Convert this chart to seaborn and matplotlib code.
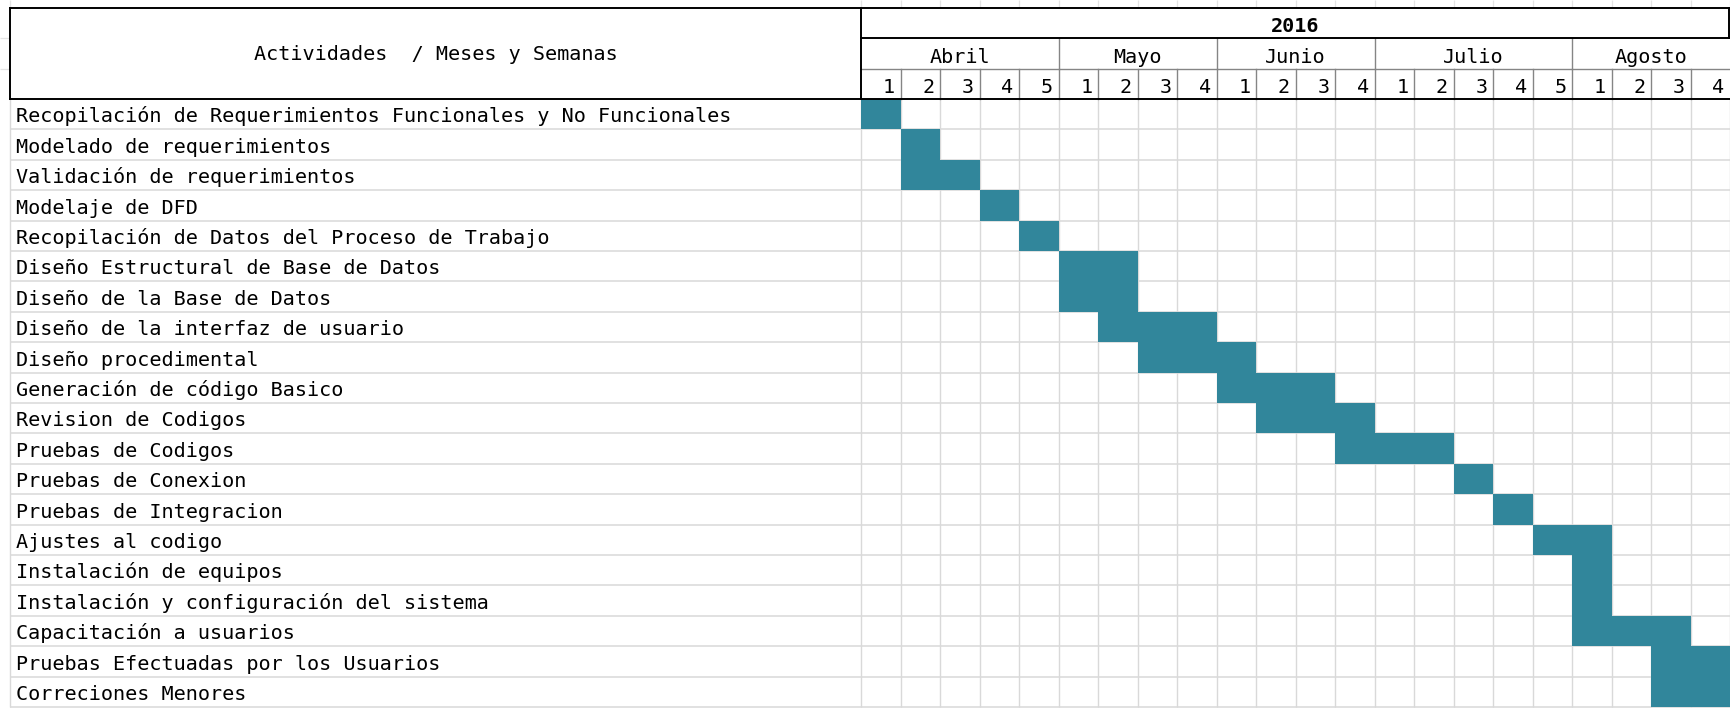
import numpy as np
import pandas as pd
import matplotlib
matplotlib.use("Agg")
import matplotlib.pyplot as plt
from matplotlib.colors import ListedColormap
import seaborn as sns

# ---- schedule data -------------------------------------------------------
year_label = "2016"
header_label = "Actividades  / Meses y Semanas"
months = ["Abril", "Mayo", "Junio", "Julio", "Agosto"]
weeks_per_month = [5, 4, 4, 5, 4]
week_labels = ["1", "2", "3", "4", "5",
               "1", "2", "3", "4",
               "1", "2", "3", "4",
               "1", "2", "3", "4", "5",
               "1", "2", "3", "4"]

activities = [
    "Recopilación de Requerimientos Funcionales y No Funcionales",
    "Modelado de requerimientos",
    "Validación de requerimientos",
    "Modelaje de DFD",
    "Recopilación de Datos del Proceso de Trabajo",
    "Diseño Estructural de Base de Datos",
    "Diseño de la Base de Datos",
    "Diseño de la interfaz de usuario",
    "Diseño procedimental",
    "Generación de código Basico",
    "Revision de Codigos",
    "Pruebas de Codigos",
    "Pruebas de Conexion",
    "Pruebas de Integracion",
    "Ajustes al codigo",
    "Instalación de equipos",
    "Instalación y configuración del sistema",
    "Capacitación a usuarios",
    "Pruebas Efectuadas por los Usuarios",
    "Correciones Menores",
]
# first week (0-based index over the 22 weeks) and length in weeks
start_week = [0, 1, 1, 3, 4, 5, 5, 6, 7, 9, 10, 12, 15, 16, 17, 18, 18, 18, 20, 20]
duration = [1, 1, 2, 1, 1, 2, 2, 3, 3, 3, 3, 3, 1, 1, 2, 1, 1, 3, 2, 2]

# ---- style ---------------------------------------------------------------
sns.set_theme(style="white")
plt.rcParams["font.family"] = ["DejaVu Sans Mono", "DejaVu Sans"]
FS = 14.5
BAR = "#31869B"
GRID = "#d9d9d9"
MID = "#858585"
FAINT = "#e4e4e4"

n_rows = len(activities)
n_cols = len(week_labels)

# activity x week occupancy matrix
schedule = np.zeros((n_rows, n_cols))
for i, (s, d) in enumerate(zip(start_week, duration)):
    schedule[i, s:s + d] = 1
df = pd.DataFrame(schedule, index=activities,
                  columns=[f"{m}-{w}" for m, n in zip(months, weeks_per_month)
                           for w in range(1, n + 1)])

# ---- figure / axes geometry (pixels) -------------------------------------
W, H = 1730, 708
x0_px, col_px = 861, 39.5
y0_px, row_px = 99, 30.4
fig = plt.figure(figsize=(W / 100, H / 100), dpi=100)
fig.patch.set_facecolor("white")
ax = fig.add_axes([x0_px / W, (H - y0_px - n_rows * row_px) / H,
                   n_cols * col_px / W, n_rows * row_px / H])

sns.heatmap(df, mask=(df == 0), cmap=ListedColormap([BAR]), vmin=0, vmax=1,
            cbar=False, linewidths=0, xticklabels=False, yticklabels=False,
            ax=ax)
ax.set_xlabel("")
ax.set_ylabel("")

left_x = (10.3 - x0_px) / col_px      # left border of the activity column
right_x = n_cols - 0.03


def line(xs, ys, color, lw, z=3):
    ax.plot(xs, ys, color=color, lw=lw, clip_on=False, zorder=z,
            solid_capstyle="projecting")


# cell grid under the filled cells
ax.hlines(np.arange(1, n_rows + 1), left_x, n_cols, color=GRID, lw=1.1,
          zorder=0.5, clip_on=False)
ax.vlines(np.arange(0, n_cols + 1), 0, n_rows, color=GRID, lw=1.0,
          zorder=0.5, clip_on=False)
ax.vlines(left_x, 0, n_rows, color=GRID, lw=1.0, zorder=0.5, clip_on=False)

# faint sheet gridlines outside the table
top_edge = -y0_px / row_px
ax.vlines(np.arange(0, n_cols + 1), top_edge, -3, color=FAINT, lw=0.9,
          clip_on=False, zorder=0.5)
ax.vlines(left_x, top_edge, -3, color=FAINT, lw=0.9, clip_on=False, zorder=0.5)
ax.hlines([-2, -1], -x0_px / col_px, left_x, color=FAINT, lw=0.9,
          clip_on=False, zorder=0.5)

# header: week row separators and month separators
month_edges = np.concatenate([[0], np.cumsum(weeks_per_month)])
for k in range(1, n_cols):
    line([k, k], [-1, 0], MID, 1.0)
for e in month_edges[1:-1]:
    line([e, e], [-2, -1], MID, 1.0)
line([0, n_cols], [-1, -1], MID, 1.0)

# header: black borders
line([left_x, right_x], [-3, -3], "black", 1.4, 4)
line([left_x, n_cols], [0, 0], "black", 1.4, 4)
line([left_x, left_x], [-3, 0], "black", 1.4, 4)
line([0, 0], [-3, 0], "black", 1.4, 4)
line([0, right_x], [-2, -2], "black", 1.4, 4)
line([right_x, right_x], [-3, -2], "black", 1.4, 4)

# header texts
ax.text(left_x / 2, -1.48, header_label, ha="center", va="center",
        fontsize=FS, color="black", clip_on=False)
ax.text(n_cols / 2, -2.21, year_label, ha="center", va="baseline",
        fontsize=FS, fontweight="bold", color="black", clip_on=False)
for m, a, b in zip(months, month_edges[:-1], month_edges[1:]):
    ax.text((a + b) / 2, -1.19, m, ha="center", va="baseline",
            fontsize=FS, color="black", clip_on=False)
for k, w in enumerate(week_labels):
    ax.text(k + 1 - 0.14, -0.21, w, ha="right", va="baseline",
            fontsize=FS, color="black", clip_on=False)

# activity names
text_x = (16 - x0_px) / col_px
for i, name in enumerate(activities):
    ax.text(text_x, i + 0.77, name, ha="left", va="baseline",
            fontsize=FS, color="black", clip_on=False)

fig.savefig("out.png", dpi=100, facecolor="white")
